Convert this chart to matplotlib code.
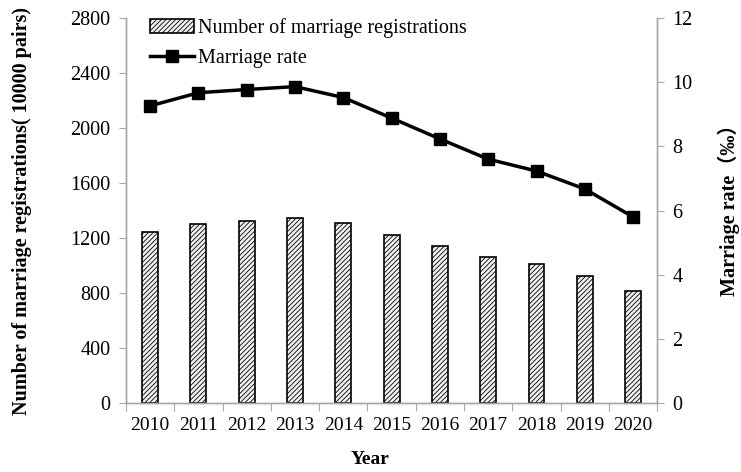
import numpy as np
import matplotlib.pyplot as plt

# data
years = ['2010', '2011', '2012', '2013', '2014', '2015', '2016', '2017', '2018', '2019', '2020']
registrations = [1241, 1302, 1324, 1347, 1307, 1225, 1143, 1063, 1014, 927, 814]
rates = [9.26, 9.67, 9.77, 9.86, 9.52, 8.88, 8.23, 7.60, 7.23, 6.67, 5.80]

plt.rcParams['font.family'] = ['Liberation Serif', 'Noto Sans CJK SC', 'DejaVu Sans']
plt.rcParams['hatch.linewidth'] = 0.6
plt.rcParams['hatch.color'] = '#555555'

gray = '#a6a6a6'
fs = 14.5
fig = plt.figure(figsize=(7.41, 4.72), dpi=100)
ax = fig.add_axes([0.170, 0.146, 0.717, 0.816])
ax2 = ax.twinx()

x = np.arange(len(years))
bars = ax.bar(x, registrations, width=0.33, facecolor='#f2f2f2', edgecolor='black',
              linewidth=1.2, hatch='///////', label='Number of marriage registrations')
line, = ax2.plot(x, rates, color='black', linewidth=2.5, marker='s', markersize=8.5,
                 label='Marriage rate')

ax.set_ylim(0, 2800)
ax.set_yticks(np.arange(0, 2801, 400))
ax2.set_ylim(0, 12)
ax2.set_yticks(np.arange(0, 13, 2))
ax.set_xlim(-0.5, len(years) - 0.5)

# ticks between categories, labels at centres
ax.set_xticks(np.arange(-0.5, len(years), 1.0))
ax.set_xticklabels([])
ax.set_xticks(x, minor=True)
ax.set_xticklabels(years, minor=True)
ax.tick_params(axis='x', which='minor', length=0, pad=10, labelsize=14)
ax.tick_params(axis='x', which='major', length=6, color=gray, direction='out')
ax.tick_params(axis='y', length=5, color=gray, labelsize=14.5, pad=6)
ax2.tick_params(axis='y', length=5, color=gray, labelsize=14.5, pad=6)

for a in (ax, ax2):
    a.spines['top'].set_visible(False)
    for s in ('left', 'right', 'bottom'):
        a.spines[s].set_color(gray)
        a.spines[s].set_linewidth(1.0)

fig.text(370 / 741, 1 - 460 / 472, 'Year', fontsize=14, fontweight='bold',
         ha='center', va='center')
fig.text(22 / 741, 1 - 211 / 472, 'Number of marriage registrations( 10000 pairs)',
         fontsize=fs, fontweight='bold', rotation=90, ha='center', va='center')
fig.text(729 / 741, 1 - 205 / 472, 'Marriage rate（‰）', fontsize=fs,
         fontweight='bold', rotation=90, ha='center', va='center')

leg = ax.legend([bars, line], ['Number of marriage registrations', 'Marriage rate'],
                loc='upper left', bbox_to_anchor=(0.045, 1.0), frameon=False,
                fontsize=fs, handlelength=2.2, handletextpad=0.2, labelspacing=0.55,
                borderaxespad=0, borderpad=0)

fig.savefig('out.png', dpi=100)
